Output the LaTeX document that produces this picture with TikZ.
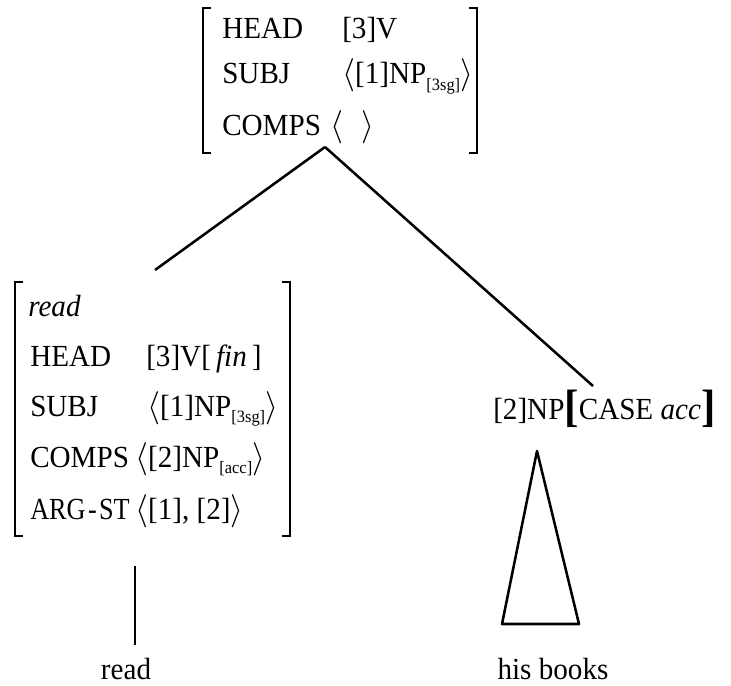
\documentclass[tikz,border=0pt]{standalone}
\usepackage{fontspec}
\setmainfont{Liberation Serif}[FakeStretch=0.95]
\usepackage{tikz}
\usetikzlibrary{positioning}

\newcommand{\subsz}[1]{\raisebox{-0.22em}{\fontsize{13}{13}\selectfont #1}}
\newcommand{\bigbrk}[1]{\raisebox{-0.08em}{\fontsize{34}{34}\selectfont\textbf{#1}}}

\tikzset{
  avm/.style={anchor=base west,inner sep=0pt},
  brk/.style={line width=1.1pt},
  branch/.style={line width=1.9pt}
}

\begin{document}
\begin{tikzpicture}[x=0.75pt,y=0.75pt,yscale=-1,font=\fontsize{23}{27}\selectfont]
  \useasboundingbox (0,0) rectangle (731,685);

  %Top AVM brackets
  \draw [brk] (211,8) -- (203,8) -- (203,153) -- (211,153) ;
  \draw [brk] (469,8) -- (477,8) -- (477,153) -- (469,153) ;
  % Text Node
  \node [avm] (tophead) at (222,39) {HEAD};
  \node [avm] (topheadv) at (342,39) {[3]V};
  \node [avm] (topsubj) at (222,84) {SUBJ};
  \node [avm] (topsubjv) at (342,84) {$\langle$[1]NP\subsz{[3sg]}$\rangle$};
  \node [avm] (topcomps) at (222,135) {COMPS};
  \node [avm] (topcompsv) at (330,135) {$\langle\;\;\rangle$};

  %Left AVM brackets
  \draw [brk] (23,282) -- (15,282) -- (15,536) -- (23,536) ;
  \draw [brk] (282,282) -- (290,282) -- (290,536) -- (282,536) ;
  % Text Node
  \node [avm] (lread) at (28,316) {\textit{read}};
  \node [avm] (lhead) at (30,366) {HEAD};
  \node [avm] (lheadv) at (146,366) {[3]V[\,\textit{fin}\,]};
  \node [avm] (lsubj) at (30,416) {SUBJ};
  \node [avm] (lsubjv) at (147,416) {$\langle$[1]NP\subsz{[3sg]}$\rangle$};
  \node [avm] (lcomps) at (30,467) {COMPS};
  \node [avm] (lcompsv) at (135,467) {$\langle$[2]NP\subsz{[acc]}$\rangle$};
  \node [avm] (largst) at (30,519) {\scalebox{0.9}[1]{ARG\kern2pt-\kern2pt ST}};
  \node [avm] (largstv) at (135,519) {$\langle$[1], [2]$\rangle$};

  %Right daughter
  \node [avm] (np) at (493,419) {[2]NP\bigbrk{[}CASE \textit{acc}\bigbrk{]}};

  %Branches
  \coordinate (topfoot) at (325,147);
  \coordinate (lefttop) at (155,270);
  \coordinate (righttop) at (593,386);
  \draw [branch] (topfoot) -- (lefttop) ;
  \draw [branch] (topfoot) -- (righttop) ;

  %Leaves
  \coordinate (stemtop) at (135,566);
  \coordinate (stembot) at (135,645);
  \draw [branch] (stemtop) -- (stembot) ;
  \coordinate (apex) at (537,451);
  \coordinate (baseleft) at (502,624);
  \coordinate (baseright) at (579,624);
  \draw [branch,line join=round] (apex) -- (baseleft) -- (baseright) -- cycle ;
  \node [anchor=base,inner sep=0pt] (leafread) at (126,679) {read};
  \node [anchor=base,inner sep=0pt] (leafbooks) at (553,679) {his books};
\end{tikzpicture}
\end{document}
